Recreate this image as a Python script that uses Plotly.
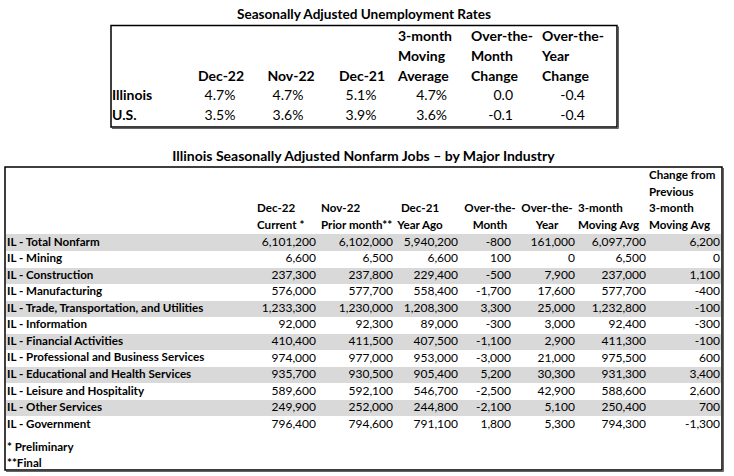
import plotly.graph_objects as go

# ---------------- DATA ----------------
top_title = "Seasonally Adjusted Unemployment Rates"
top_rows = ["Illinois", "U.S."]
top_headers = [["Dec-22"], ["Nov-22"], ["Dec-21"],
               ["3-month", "Moving", "Average"],
               ["Over-the-", "Month", "Change"],
               ["Over-the-", "Year", "Change"]]
rate_dec22 = [4.7, 3.5]
rate_nov22 = [4.7, 3.6]
rate_dec21 = [5.1, 3.9]
rate_ma3 = [4.7, 3.6]
rate_otm = [0.0, -0.1]
rate_oty = [-0.4, -0.4]

bottom_title = "Illinois Seasonally Adjusted Nonfarm Jobs \u2013 by Major Industry"
industries = ["IL - Total Nonfarm", "IL - Mining", "IL - Construction", "IL - Manufacturing",
              "IL - Trade, Transportation, and Utilities", "IL - Information",
              "IL - Financial Activities", "IL - Professional and Business Services",
              "IL - Educational and Health Services", "IL - Leisure and Hospitality",
              "IL - Other Services", "IL - Government"]
bottom_headers = [["Dec-22", "Current *"], ["Nov-22", "Prior month**"], ["Dec-21", "Year Ago"],
                  ["Over-the-", "Month"], ["Over-the-", "Year"], ["3-month", "Moving Avg"],
                  ["Change from", "Previous", "3-month", "Moving Avg"]]
jobs_dec22 = [6101200, 6600, 237300, 576000, 1233300, 92000, 410400, 974000, 935700, 589600, 249900, 796400]
jobs_nov22 = [6102000, 6500, 237800, 577700, 1230000, 92300, 411500, 977000, 930500, 592100, 252000, 794600]
jobs_dec21 = [5940200, 6600, 229400, 558400, 1208300, 89000, 407500, 953000, 905400, 546700, 244800, 791100]
jobs_otm = [-800, 100, -500, -1700, 3300, -300, -1100, -3000, 5200, -2500, -2100, 1800]
jobs_oty = [161000, 0, 7900, 17600, 25000, 3000, 2900, 21000, 30300, 42900, 5100, 5300]
jobs_ma3 = [6097700, 6500, 237000, 577700, 1232800, 92400, 411300, 975500, 931300, 588600, 250400, 794300]
jobs_chg_ma3 = [6200, 0, 1100, -400, -100, -300, -100, 600, 3400, 2600, 700, -1300]
footnotes = ["* Preliminary", "**Final"]

# ---------------- LAYOUT / STYLE ----------------
W, H = 734, 476
FONT = "Lato"
fig = go.Figure()


def add_text(xs, ys, texts, pos, size, bold=False, color="black"):
    t = [f"<b>{s}</b>" if bold else s for s in texts]
    fig.add_trace(go.Scatter(x=xs, y=ys, text=t, mode="text", textposition=pos,
                             textfont=dict(family=FONT, size=size, color=color),
                             hoverinfo="skip", showlegend=False, cliponaxis=False))


# ---- top table geometry ----
T = dict(x0=111, x1=617, y0=25.5, y1=127, title_y=15.5, head_y0=37.8, line=19.7,
         label_x=112, fs=14)
# (header anchor, header pos, value anchor, value pos, percent?)
top_cols = [(221, "middle center", 220, "middle center", True),
            (291, "middle center", 288, "middle center", True),
            (362, "middle center", 361, "middle center", True),
            (398, "middle right", 447, "middle left", True),
            (471, "middle right", 513, "middle left", False),
            (542, "middle right", 585, "middle left", False)]
top_vals = [rate_dec22, rate_nov22, rate_dec21, rate_ma3, rate_otm, rate_oty]
n_head_top = max(len(h) for h in top_headers)
top_row_y = [T["head_y0"] + (n_head_top + i) * T["line"] for i in range(len(top_rows))]

fig.add_shape(type="rect", x0=T["x0"], x1=T["x1"], y0=T["y0"], y1=T["y1"],
              line=dict(color="black", width=1.5), layer="below")
add_text([(T["x0"] + T["x1"]) / 2], [T["title_y"]], [top_title], "middle center", 13.6, bold=True)
add_text([T["label_x"]] * len(top_rows), top_row_y, top_rows, "middle right", T["fs"], bold=True)
for (hx, hp, vx, vp, pct), hdr, vals in zip(top_cols, top_headers, top_vals):
    off = n_head_top - len(hdr)
    hy = [T["head_y0"] + (off + k) * T["line"] for k in range(len(hdr))]
    add_text([hx] * len(hdr), hy, hdr, hp, T["fs"], bold=True)
    fmt = [f"{v:.1f}%" if pct else f"{v:.1f}" for v in vals]
    add_text([vx] * len(vals), top_row_y, fmt, vp, T["fs"])

# ---- bottom table geometry ----
B = dict(x0=5, x1=722, y0=167, y1=470, title_y=157, head_y0=176.5, line=16.55,
         label_x=7, band_x0=6, band_x1=721, fs=12, label_fs=11.6)
bot_cols = [(257, "middle right", 316),
            (321, "middle right", 393),
            (420, "middle center", 458),
            (490, "middle center", 511),
            (547, "middle center", 575),
            (578, "middle right", 646),
            (649, "middle right", 720)]
bot_vals = [jobs_dec22, jobs_nov22, jobs_dec21, jobs_otm, jobs_oty, jobs_ma3, jobs_chg_ma3]
n_head_bot = max(len(h) for h in bottom_headers)
row_y = [B["head_y0"] + (n_head_bot + i) * B["line"] for i in range(len(industries))]
foot_y = [row_y[-1] + (1.4 + i) * B["line"] for i in range(len(footnotes))]

# alternating gray bands as horizontal bars on the same axes
band_idx = [i for i in range(len(industries)) if i % 2 == 0]
fig.add_trace(go.Bar(y=[row_y[i] for i in band_idx], x=[B["band_x1"] - B["band_x0"]] * len(band_idx),
                     base=B["band_x0"], orientation="h", width=B["line"],
                     marker=dict(color="#d9d9d9", line=dict(width=0)),
                     hoverinfo="skip", showlegend=False))

fig.add_shape(type="rect", x0=B["x0"], x1=B["x1"], y0=B["y0"], y1=B["y1"],
              line=dict(color="black", width=1.5), layer="above")
for (bx0, bx1, by0, by1) in [(B["x0"], B["x1"], B["y0"], B["y1"]), (T["x0"], T["x1"], T["y0"], T["y1"])]:
    fig.add_shape(type="line", x0=bx0 + 1, x1=bx1 + 1.5, y0=by1 + 1.5, y1=by1 + 1.5,
                  line=dict(color="#666666", width=1))
    fig.add_shape(type="line", x0=bx1 + 1.5, x1=bx1 + 1.5, y0=by0 + 1, y1=by1 + 1.5,
                  line=dict(color="#666666", width=1))

add_text([(B["x0"] + B["x1"]) / 2], [B["title_y"]], [bottom_title], "middle center", 14, bold=True)
add_text([B["label_x"]] * len(industries), row_y, industries, "middle right", B["label_fs"], bold=True)
add_text([B["label_x"]] * len(footnotes), foot_y, footnotes, "middle right", B["label_fs"], bold=True)
for (hx, hp, vx), hdr, vals in zip(bot_cols, bottom_headers, bot_vals):
    off = n_head_bot - len(hdr)
    hy = [B["head_y0"] + (off + k) * B["line"] for k in range(len(hdr))]
    add_text([hx] * len(hdr), hy, hdr, hp, B["label_fs"], bold=True)
    add_text([vx] * len(vals), row_y, [f"{v:,}" for v in vals], "middle left", B["fs"])

fig.update_layout(
    width=W, height=H, margin=dict(l=0, r=0, t=0, b=0),
    paper_bgcolor="white", plot_bgcolor="white", bargap=0,
    xaxis=dict(range=[0, W], visible=False, fixedrange=True),
    yaxis=dict(range=[H, 0], visible=False, fixedrange=True),
)
fig.write_html("out.html", config={"displayModeBar": False},
               post_script="document.body.style.margin='0';document.body.style.overflow='hidden';")
